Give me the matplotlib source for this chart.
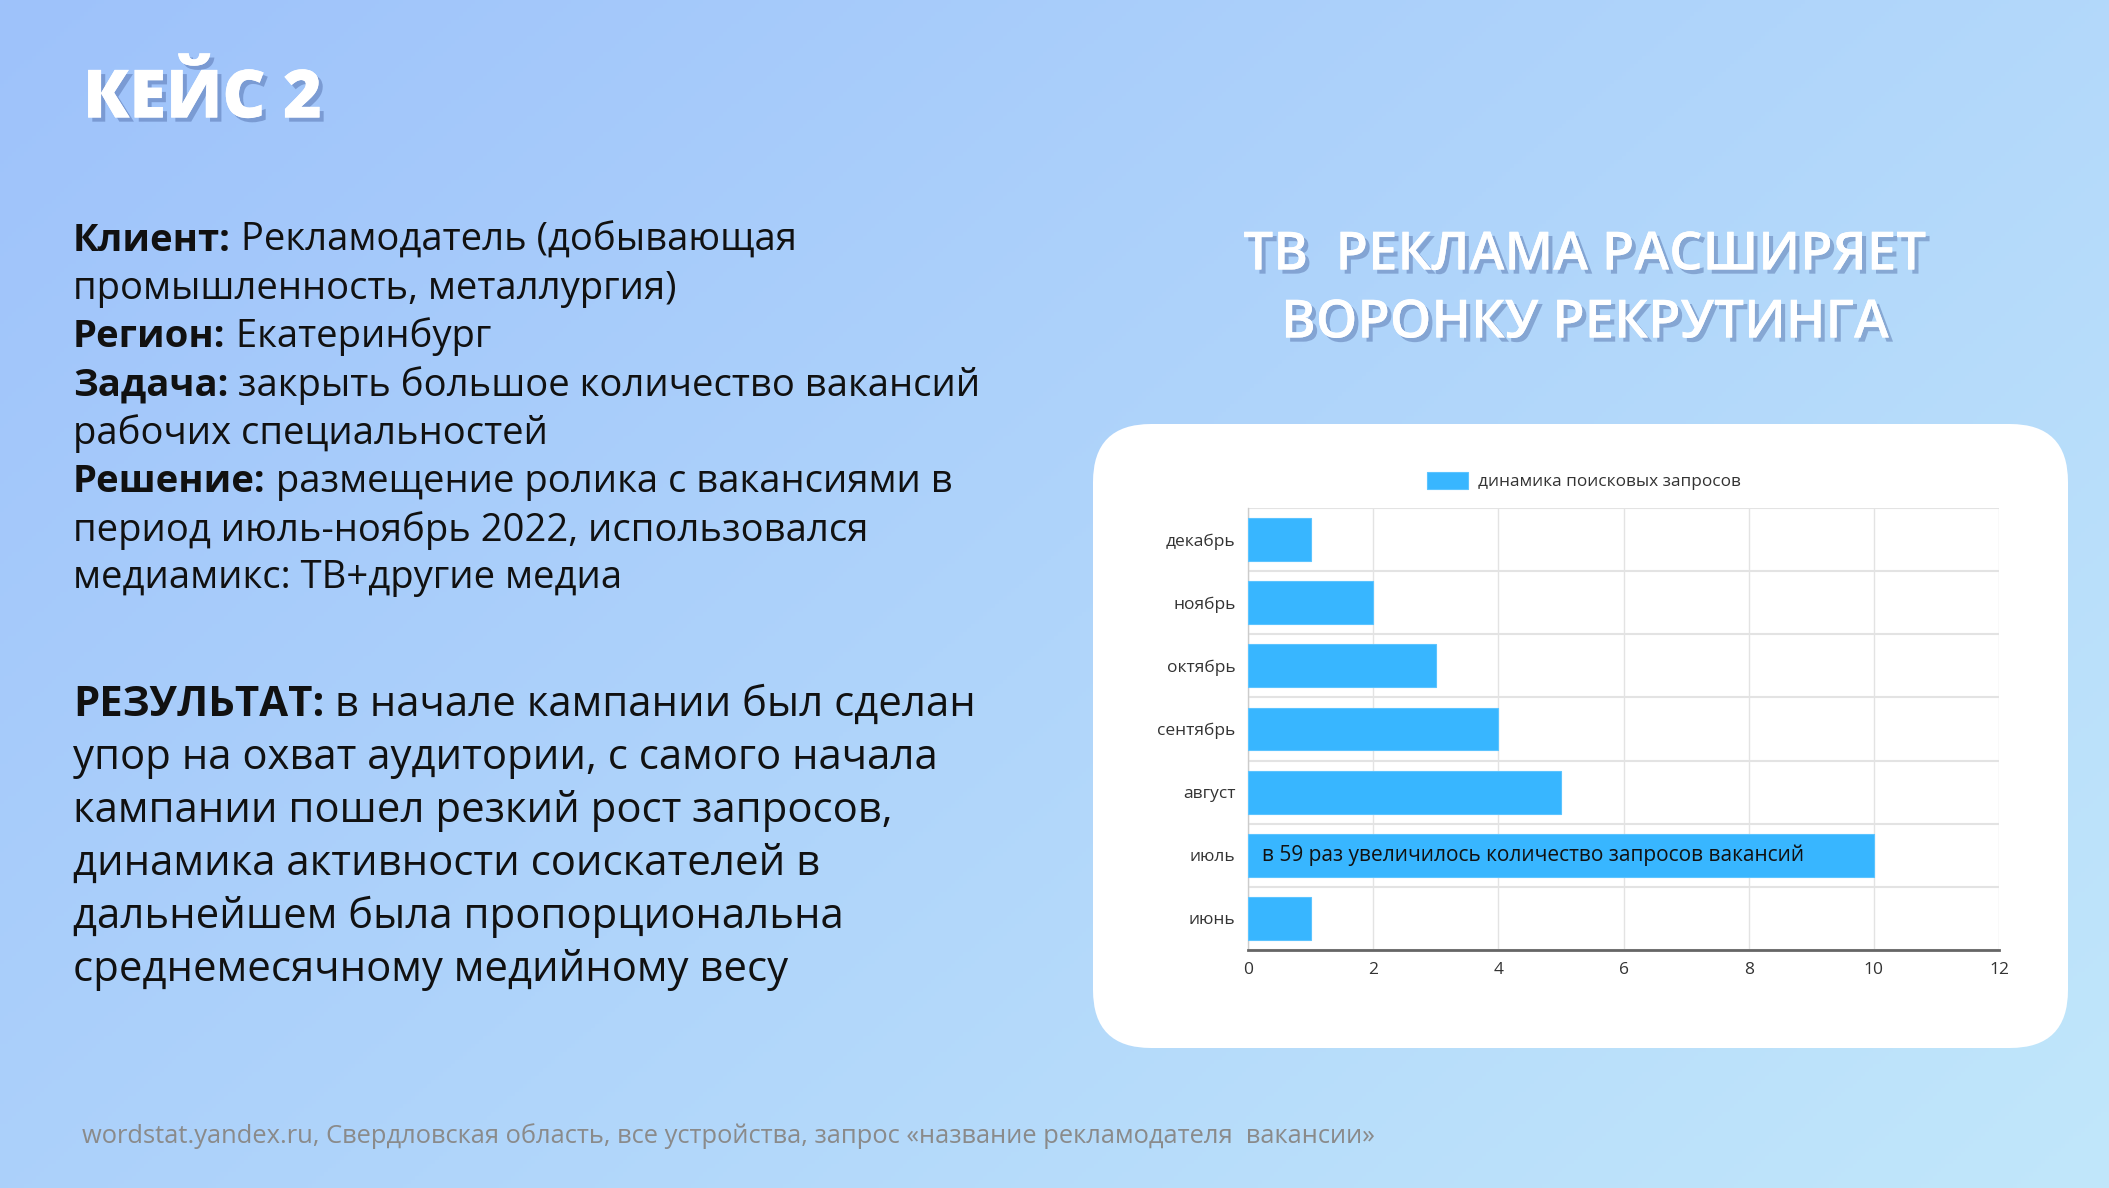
import numpy as np
import matplotlib
matplotlib.use("Agg")
import matplotlib.pyplot as plt
from matplotlib.patches import FancyBboxPatch
import matplotlib.patheffects as pe

# ---------------- data ----------------
months = ["июнь", "июль", "август", "сентябрь", "октябрь", "ноябрь", "декабрь"]
search_dynamics = [1, 10, 5, 4, 3, 2, 1]
x_ticks = [0, 2, 4, 6, 8, 10, 12]
series_label = "динамика поисковых запросов"
bar_note = "в 59 раз увеличилось количество запросов вакансий"
note_month = "июль"

title_left = "КЕЙС 2"
title_right = ["ТВ  РЕКЛАМА РАСШИРЯЕТ", "ВОРОНКУ РЕКРУТИНГА"]
info_lines = [
    ("Клиент:", " Рекламодатель (добывающая"),
    ("", "промышленность, металлургия)"),
    ("Регион:", " Екатеринбург"),
    ("Задача:", " закрыть большое количество вакансий"),
    ("", "рабочих специальностей"),
    ("Решение:", " размещение ролика с вакансиями в"),
    ("", "период июль-ноябрь 2022, использовался"),
    ("", "медиамикс: ТВ+другие медиа"),
]
result_lines = [
    ("РЕЗУЛЬТАТ:", " в начале кампании был сделан"),
    ("", "упор на охват аудитории, с самого начала"),
    ("", "кампании пошел резкий рост запросов,"),
    ("", "динамика активности соискателей в"),
    ("", "дальнейшем была пропорциональна"),
    ("", "среднемесячному медийному весу"),
]
footer = "wordstat.yandex.ru, Свердловская область, все устройства, запрос «название рекламодателя  вакансии»"

# ---------------- figure ----------------
W, H = 2109, 1188
DPI = 100
plt.rcParams['font.family'] = ['Open Sans', 'DejaVu Sans']
fig = plt.figure(figsize=(W / DPI, H / DPI), dpi=DPI)

bg = fig.add_axes([0, 0, 1, 1])
bg.set_xlim(0, W)
bg.set_ylim(H, 0)
bg.axis("off")

# gradient background
yy, xx = np.mgrid[0:H:4, 0:W:4]
t = 0.6 * xx / W + 0.4 * yy / H
c0 = np.array([158, 194, 251]) / 255
c1 = np.array([193, 231, 250]) / 255
img = c0[None, None, :] * (1 - t[..., None]) + c1[None, None, :] * t[..., None]
bg.imshow(img, extent=(0, W, H, 0), aspect="auto", zorder=0)

# card
card = FancyBboxPatch((1093, 424), 2068 - 1093, 1048 - 424,
                      boxstyle="round,pad=0,rounding_size=58",
                      facecolor="white", edgecolor="none", zorder=1)
bg.add_patch(card)

shadow = [pe.withSimplePatchShadow(offset=(3, -3), shadow_rgbFace=(0.2, 0.3, 0.55), alpha=0.35),
          pe.Normal()]

bg.text(83, 100, title_left, color="white", fontsize=48, fontweight="heavy",
        va="center", ha="left", path_effects=shadow, zorder=3)

for i, line in enumerate(title_right):
    bg.text(1585, 256 + i * 68, line, color="white", fontsize=38, fontweight="semibold",
            va="center", ha="center", path_effects=shadow, zorder=3)


def draw_lines(lines, y0, dy, size):
    for i, (b, r) in enumerate(lines):
        y = y0 + i * dy
        if b:
            tb = bg.text(73, y, b, fontsize=size, fontweight="bold", color="#111111",
                         va="center", ha="left", zorder=3)
            bg.annotate(r, xy=(1, 0), xycoords=tb, fontsize=size, color="#111111",
                        va="bottom", ha="left", zorder=3)
        else:
            bg.text(73, y, r, fontsize=size, color="#111111", va="center", ha="left", zorder=3)


draw_lines(info_lines, 241, 48.2, 27.5)
draw_lines(result_lines, 705, 53, 30.2)

bg.text(82, 1136, footer, fontsize=18.4, color="#8a8a8a", va="center", ha="left", zorder=3)

# ---------------- chart ----------------
ax = fig.add_axes([1248 / W, 1 - 950 / H, (1999 - 1248) / W, (950 - 508) / H])
ax.set_facecolor("white")
ypos = np.arange(len(months))
bars = ax.barh(ypos, search_dynamics, height=0.68, color="#38B6FF",
               edgecolor="#5cc4ff", linewidth=0.8, label=series_label, zorder=3)
ax.set_xlim(0, 12)
ax.set_ylim(-0.5, len(months) - 0.5)
ax.set_xticks(x_ticks)
ax.set_xticklabels([str(v) for v in x_ticks])
ax.set_yticks(ypos)
ax.set_yticklabels(months)
ax.tick_params(axis="both", length=0, labelsize=12.5, colors="#333333")
ax.tick_params(axis="y", pad=9)
ax.tick_params(axis="x", pad=9)

for v in x_ticks:
    ax.axvline(v, color="#e3e3e3", lw=1, zorder=1)
for b in np.arange(-0.5, len(months) + 0.5, 1):
    ax.axhline(b, color="#e3e3e3", lw=1.5, zorder=1)
for s in ["top", "right"]:
    ax.spines[s].set_visible(False)
ax.spines["left"].set_color("#cccccc")
ax.spines["left"].set_linewidth(1)
ax.spines["bottom"].set_color("#666666")
ax.spines["bottom"].set_linewidth(2)
ax.spines["bottom"].set_zorder(5)

ni = months.index(note_month)
ax.annotate(bar_note, xy=(0, ni), xytext=(14, 0), textcoords="offset pixels",
            va="center", ha="left", fontsize=15, color="#111111", zorder=6)

fig.legend(handles=[bars], labels=[series_label], loc="center",
           bbox_to_anchor=(1584 / W, 1 - 481 / H), bbox_transform=fig.transFigure,
           frameon=False, fontsize=12.4, handlelength=2.4, handleheight=1.15,
           handletextpad=0.6, labelcolor="#333333")

fig.savefig("out.png", dpi=DPI)
